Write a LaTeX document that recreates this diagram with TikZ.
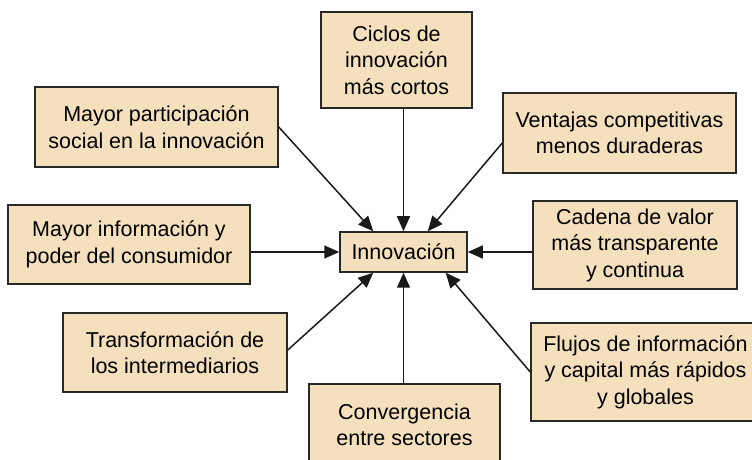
\documentclass[tikz,border=0pt]{standalone}
\usepackage{fontspec}
\setmainfont{Liberation Sans}
\usepackage{xcolor}
\usepackage{tikz}
\usetikzlibrary{arrows.meta}

\definecolor{trigo}{RGB}{245,224,190}
\definecolor{borde}{RGB}{40,40,40}

\begin{document}
\begin{tikzpicture}[x=1bp, y=-1bp,
      caja/.style={rectangle, draw=borde, line width=1.5bp, fill=trigo,
        align=center, inner sep=0pt,
        font=\fontsize{21.5bp}{26.5bp}\selectfont},
      flecha/.style={draw=black!90, line width=1.5bp,
        -{Triangle[length=15bp, width=13bp]}}
      ]
      \clip (0,0) rectangle (752,460);
      \node[caja, minimum width=127bp, minimum height=40bp] (innov) at (403.5,252) {Innovación};
      \node[caja, minimum width=151bp, minimum height=96bp] (ciclos) at (396.5,60) {Ciclos de\\innovación\\más cortos};
      \node[caja, minimum width=243bp, minimum height=80bp] (part) at (156.5,127) {Mayor participación\\social en la innovación};
      \node[caja, minimum width=233bp, minimum height=80bp] (vent) at (619.5,133) {Ventajas competitivas\\menos duraderas};
      \node[caja, minimum width=242bp, minimum height=79bp] (info) at (129,244.5) {Mayor información y\\poder del consumidor};
      \node[caja, minimum width=204bp, minimum height=88bp] (cadena) at (635,245) {Cadena de valor\\más transparente\\y continua};
      \node[caja, minimum width=224bp, minimum height=79bp] (transf) at (175,352.5) {Transformación de\\los intermediarios};
      \node[caja, minimum width=229bp, minimum height=98bp] (flujos) at (645.5,372) {Flujos de información\\y capital más rápidos\\y globales};
      \node[caja, minimum width=191bp, minimum height=82bp] (conv) at (404.5,425) {Convergencia\\entre sectores};

      \draw[flecha] (ciclos.south -| innov) -- (innov.north);
      \draw[flecha] (part.east) -- ([xshift=34bp]innov.north west);
      \draw[flecha] ([yshift=-10bp]vent.west) -- ([xshift=-40bp]innov.north east);
      \draw[flecha] (info.east |- innov) -- (innov.west);
      \draw[flecha] (cadena.west |- innov) -- (innov.east);
      \draw[flecha] ([yshift=2.5bp]transf.east) -- ([xshift=34bp]innov.south west);
      \draw[flecha] (flujos.west) -- ([xshift=-22bp]innov.south east);
      \draw[flecha] (conv.north -| innov) -- (innov.south);
    \end{tikzpicture}
\end{document}
